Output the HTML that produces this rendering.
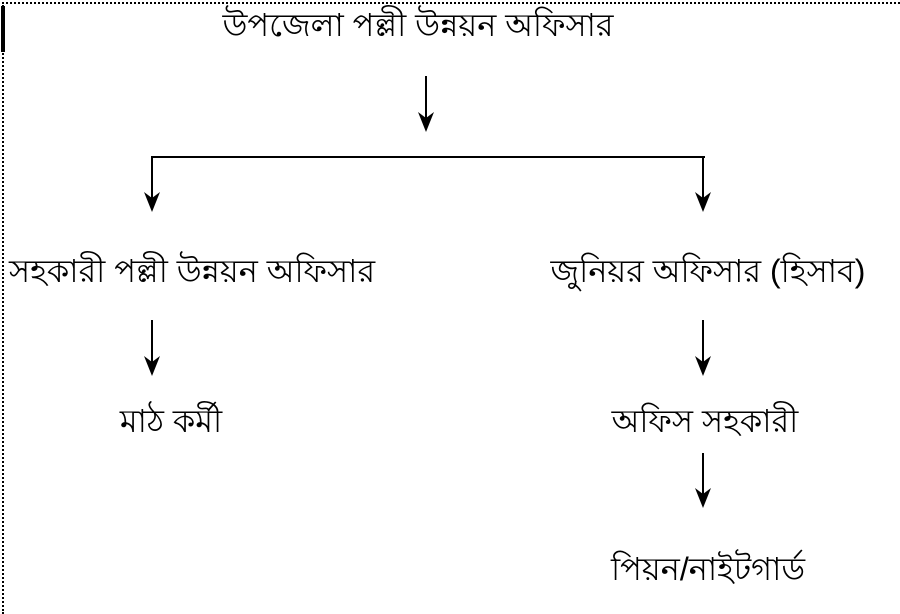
<!DOCTYPE html>
<html><head><meta charset="utf-8"><style>
body{margin:0;width:900px;height:600px;background:#fff;position:relative;overflow:hidden;font-family:"Liberation Sans","DejaVu Sans",sans-serif;}
.t{position:absolute;font-size:32px;color:#000;white-space:nowrap;line-height:38px;transform:translateX(-50%);}
</style></head><body>
<div style="position:absolute;left:2px;top:2px;width:900px;height:610px;border-top:2px dotted #000;border-left:2px dotted #000;"></div>
<div style="position:absolute;left:1px;top:6px;width:4px;height:46px;background:#000;"></div>
<svg width="900" height="600" style="position:absolute;left:0;top:0">
<g stroke="#000" stroke-width="2" fill="none">
<line x1="426" y1="76" x2="426" y2="120"/>
<line x1="151" y1="157" x2="705" y2="157"/>
<line x1="152" y1="157" x2="152" y2="200"/>
<line x1="703" y1="157" x2="703" y2="200"/>
<line x1="152" y1="320" x2="152" y2="364"/>
<line x1="703" y1="320" x2="703" y2="364"/>
<line x1="703" y1="453" x2="703" y2="496"/>
</g>
<g fill="#000">
<path d="M418,112 L426,132 L434,112 L426,118 Z"/>
<path d="M144,192 L152,212 L160,192 L152,198 Z"/>
<path d="M695,192 L703,212 L711,192 L703,198 Z"/>
<path d="M144,356 L152,376 L160,356 L152,362 Z"/>
<path d="M695,356 L703,376 L711,356 L703,362 Z"/>
<path d="M695,488 L703,508 L711,488 L703,494 Z"/>
</g></svg>
<div class="t" style="left:418px;top:6px">উপজেলা পল্লী উন্নয়ন অফিসার</div>
<div class="t" style="left:192px;top:252px">সহকারী পল্লী উন্নয়ন অফিসার</div>
<div class="t" style="left:708px;top:252px">জুনিয়র অফিসার (হিসাব)</div>
<div class="t" style="left:171px;top:402px">মাঠ কর্মী</div>
<div class="t" style="left:705px;top:402px">অফিস সহকারী</div>
<div class="t" style="left:708px;top:550px">পিয়ন/নাইটগার্ড</div>
</body></html>
